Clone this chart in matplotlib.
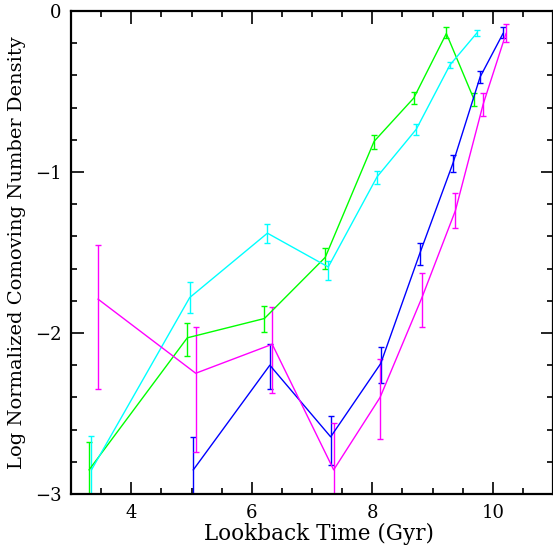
import numpy as np
import matplotlib.pyplot as plt
from matplotlib.ticker import MultipleLocator

# lookback time (Gyr), log density, lower/upper errors
t_green = [3.30, 4.93, 6.21, 7.22, 8.03, 8.69, 9.23, 9.69]
n_green = [-2.85, -2.03, -1.91, -1.53, -0.81, -0.54, -0.14, -0.55]
lo_green = [0.40, 0.11, 0.085, 0.07, 0.05, 0.04, 0.03, 0.04]
up_green = [0.175, 0.095, 0.075, 0.06, 0.04, 0.04, 0.04, 0.04]

t_cyan = [3.34, 4.97, 6.26, 7.27, 8.08, 8.73, 9.29, 9.74]
n_cyan = [-2.85, -1.78, -1.38, -1.59, -1.03, -0.735, -0.335, -0.135]
lo_cyan = [0.40, 0.095, 0.06, 0.08, 0.045, 0.035, 0.02, 0.02]
up_cyan = [0.21, 0.095, 0.06, 0.04, 0.035, 0.035, 0.02, 0.02]

t_blue = [5.03, 6.30, 7.31, 8.14, 8.79, 9.34, 9.79, 10.17]
n_blue = [-2.85, -2.20, -2.645, -2.19, -1.505, -0.945, -0.41, -0.14]
lo_blue = [0.40, 0.15, 0.175, 0.12, 0.075, 0.055, 0.04, 0.03]
up_blue = [0.205, 0.13, 0.13, 0.10, 0.065, 0.05, 0.04, 0.04]

t_mag = [3.45, 5.07, 6.34, 7.36, 8.13, 8.83, 9.38, 9.84, 10.22]
n_mag = [-1.79, -2.25, -2.07, -2.85, -2.40, -1.775, -1.24, -0.58, -0.14]
lo_mag = [0.56, 0.49, 0.30, 0.40, 0.26, 0.185, 0.11, 0.07, 0.05]
up_mag = [0.335, 0.29, 0.23, 0.29, 0.24, 0.145, 0.11, 0.07, 0.06]

plt.rcParams['font.family'] = 'DejaVu Serif'

fig = plt.figure(figsize=(5.53, 5.48), dpi=100)
ax = fig.add_axes([71/553, 54/548, 482/553, 483/548])

series = [
    (t_green, n_green, lo_green, up_green, '#00ff00'),
    (t_cyan, n_cyan, lo_cyan, up_cyan, '#00ffff'),
    (t_blue, n_blue, lo_blue, up_blue, '#0000ff'),
    (t_mag, n_mag, lo_mag, up_mag, '#ff00ff'),
]
for t, n, lo, up, c in series:
    ax.errorbar(t, n, yerr=[lo, up], color=c, lw=1.0, elinewidth=1.0,
                capsize=2.5, capthick=1.0)

ax.set_xlim(3, 11)
ax.set_ylim(-3, 0)
ax.xaxis.set_major_locator(MultipleLocator(2))
ax.xaxis.set_minor_locator(MultipleLocator(0.5))
ax.yaxis.set_major_locator(MultipleLocator(1))
ax.yaxis.set_minor_locator(MultipleLocator(0.2))
ax.tick_params(which='both', direction='in', top=True, right=True,
               labelsize=13, width=1.2)
ax.tick_params(which='major', length=9, pad=7)
ax.tick_params(which='minor', length=4.5)
for s in ax.spines.values():
    s.set_linewidth(1.6)

ax.set_xlabel('Lookback Time (Gyr)', fontsize=15.5, va='center')
ax.xaxis.set_label_coords(0.515, -0.083)
ax.set_ylabel('Log Normalized Comoving Number Density', fontsize=14, va='center')
ax.yaxis.set_label_coords(-0.112, 0.5)

plt.savefig('out.png')
